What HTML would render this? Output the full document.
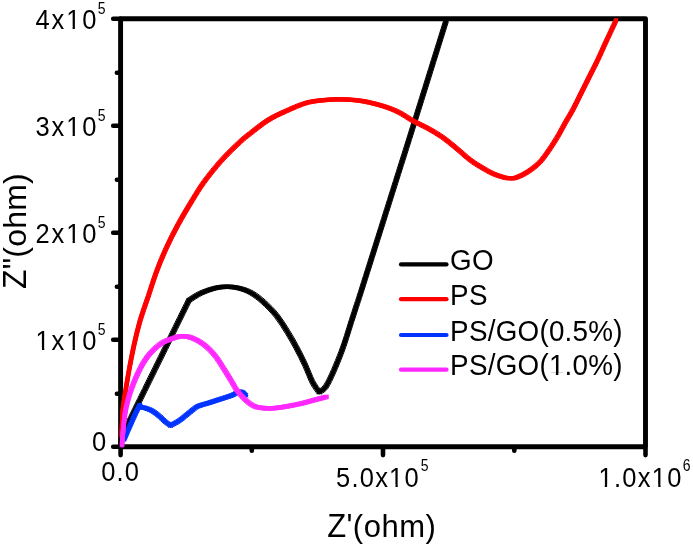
<!DOCTYPE html>
<html><head><meta charset="utf-8"><style>
html,body{margin:0;padding:0;background:#fff;}
svg{display:block;filter:blur(0.55px);}
text{font-family:"Liberation Sans",sans-serif;fill:#000;}
</style></head><body>
<svg width="693" height="546" viewBox="0 0 693 546">
<rect width="693" height="546" fill="#fff"/>
<g fill="none" stroke-linejoin="round" stroke-linecap="round">
<path d="M113.2,446.8H120.6 M113.2,339.8H120.6 M113.2,232.8H120.6 M113.2,125.8H120.6 M113.2,18.8H120.6 M116.9,393.7H120.6 M116.9,286.7H120.6 M116.9,179.7H120.6 M116.9,72.7H120.6 M120.6,448V455.1 M383.0,448V455.1 M645.5,448V455.1 M251.8,448V450.8 M514.3,448V450.8" stroke="#000" stroke-width="4.6" stroke-linecap="round"/>
<rect x="120.6" y="18.8" width="524.9" height="428.0" stroke="#000" stroke-width="4.9"/>
<path d="M120.9,446.0 C121.0,444.6 121.2,438.9 121.3,437.5 M121.3,437.5 C132.6,414.6 177.6,323.2 188.9,300.3 M188.9,300.3 C190.9,299.1 196.4,295.2 200.7,293.2 C205.0,291.2 210.4,289.3 214.8,288.2 C219.2,287.1 222.9,286.8 227.0,286.8 C231.1,286.8 235.1,287.2 239.1,288.2 C243.1,289.2 247.2,290.5 251.2,292.8 C255.2,295.1 259.1,298.0 263.3,301.8 C267.5,305.6 272.4,310.4 276.4,315.4 C280.4,320.4 284.1,326.5 287.4,331.8 C290.7,337.1 293.3,341.6 296.2,347.1 C299.1,352.6 302.3,358.8 305.0,364.7 C307.7,370.6 310.2,377.7 312.6,382.3 C315.0,386.9 318.1,390.6 319.2,392.2 M319.2,392.2 C320.3,391.3 323.4,390.2 325.8,386.7 C328.2,383.2 331.0,376.9 333.5,371.3 C336.0,365.7 338.8,358.7 341.0,353.0 C343.2,347.3 344.8,342.3 346.5,337.0 C348.2,331.7 349.8,326.2 351.5,321.0 C353.2,315.8 354.8,310.9 356.5,305.5 C358.2,300.1 354.1,313.5 362.0,288.5 C369.9,263.5 389.9,200.1 404.0,155.4 C418.1,110.7 439.2,42.7 446.3,20.2" stroke="#000" stroke-width="4.4"/><path transform="translate(-2.00,-1.70)" d="M120.9,446.0 C121.0,444.6 121.2,438.9 121.3,437.5 M121.3,437.5 C132.6,414.6 177.6,323.2 188.9,300.3 M188.9,300.3 C190.9,299.1 196.4,295.2 200.7,293.2 C205.0,291.2 210.4,289.3 214.8,288.2 C219.2,287.1 222.9,286.8 227.0,286.8 C231.1,286.8 235.1,287.2 239.1,288.2 C243.1,289.2 247.2,290.5 251.2,292.8 C255.2,295.1 259.1,298.0 263.3,301.8 C267.5,305.6 272.4,310.4 276.4,315.4 C280.4,320.4 284.1,326.5 287.4,331.8 C290.7,337.1 293.3,341.6 296.2,347.1 C299.1,352.6 302.3,358.8 305.0,364.7 C307.7,370.6 310.2,377.7 312.6,382.3 C315.0,386.9 318.1,390.6 319.2,392.2 M319.2,392.2 C320.3,391.3 323.4,390.2 325.8,386.7 C328.2,383.2 331.0,376.9 333.5,371.3 C336.0,365.7 338.8,358.7 341.0,353.0 C343.2,347.3 344.8,342.3 346.5,337.0 C348.2,331.7 349.8,326.2 351.5,321.0 C353.2,315.8 354.8,310.9 356.5,305.5 C358.2,300.1 354.1,313.5 362.0,288.5 C369.9,263.5 389.9,200.1 404.0,155.4 C418.1,110.7 439.2,42.7 446.3,20.2" stroke="#000" stroke-width="1.0"/><path transform="translate(2.00,-1.70)" d="M120.9,446.0 C121.0,444.6 121.2,438.9 121.3,437.5 M121.3,437.5 C132.6,414.6 177.6,323.2 188.9,300.3 M188.9,300.3 C190.9,299.1 196.4,295.2 200.7,293.2 C205.0,291.2 210.4,289.3 214.8,288.2 C219.2,287.1 222.9,286.8 227.0,286.8 C231.1,286.8 235.1,287.2 239.1,288.2 C243.1,289.2 247.2,290.5 251.2,292.8 C255.2,295.1 259.1,298.0 263.3,301.8 C267.5,305.6 272.4,310.4 276.4,315.4 C280.4,320.4 284.1,326.5 287.4,331.8 C290.7,337.1 293.3,341.6 296.2,347.1 C299.1,352.6 302.3,358.8 305.0,364.7 C307.7,370.6 310.2,377.7 312.6,382.3 C315.0,386.9 318.1,390.6 319.2,392.2 M319.2,392.2 C320.3,391.3 323.4,390.2 325.8,386.7 C328.2,383.2 331.0,376.9 333.5,371.3 C336.0,365.7 338.8,358.7 341.0,353.0 C343.2,347.3 344.8,342.3 346.5,337.0 C348.2,331.7 349.8,326.2 351.5,321.0 C353.2,315.8 354.8,310.9 356.5,305.5 C358.2,300.1 354.1,313.5 362.0,288.5 C369.9,263.5 389.9,200.1 404.0,155.4 C418.1,110.7 439.2,42.7 446.3,20.2" stroke="#000" stroke-width="1.0"/><path transform="translate(-2.00,1.70)" d="M120.9,446.0 C121.0,444.6 121.2,438.9 121.3,437.5 M121.3,437.5 C132.6,414.6 177.6,323.2 188.9,300.3 M188.9,300.3 C190.9,299.1 196.4,295.2 200.7,293.2 C205.0,291.2 210.4,289.3 214.8,288.2 C219.2,287.1 222.9,286.8 227.0,286.8 C231.1,286.8 235.1,287.2 239.1,288.2 C243.1,289.2 247.2,290.5 251.2,292.8 C255.2,295.1 259.1,298.0 263.3,301.8 C267.5,305.6 272.4,310.4 276.4,315.4 C280.4,320.4 284.1,326.5 287.4,331.8 C290.7,337.1 293.3,341.6 296.2,347.1 C299.1,352.6 302.3,358.8 305.0,364.7 C307.7,370.6 310.2,377.7 312.6,382.3 C315.0,386.9 318.1,390.6 319.2,392.2 M319.2,392.2 C320.3,391.3 323.4,390.2 325.8,386.7 C328.2,383.2 331.0,376.9 333.5,371.3 C336.0,365.7 338.8,358.7 341.0,353.0 C343.2,347.3 344.8,342.3 346.5,337.0 C348.2,331.7 349.8,326.2 351.5,321.0 C353.2,315.8 354.8,310.9 356.5,305.5 C358.2,300.1 354.1,313.5 362.0,288.5 C369.9,263.5 389.9,200.1 404.0,155.4 C418.1,110.7 439.2,42.7 446.3,20.2" stroke="#000" stroke-width="1.0"/><path transform="translate(2.00,1.70)" d="M120.9,446.0 C121.0,444.6 121.2,438.9 121.3,437.5 M121.3,437.5 C132.6,414.6 177.6,323.2 188.9,300.3 M188.9,300.3 C190.9,299.1 196.4,295.2 200.7,293.2 C205.0,291.2 210.4,289.3 214.8,288.2 C219.2,287.1 222.9,286.8 227.0,286.8 C231.1,286.8 235.1,287.2 239.1,288.2 C243.1,289.2 247.2,290.5 251.2,292.8 C255.2,295.1 259.1,298.0 263.3,301.8 C267.5,305.6 272.4,310.4 276.4,315.4 C280.4,320.4 284.1,326.5 287.4,331.8 C290.7,337.1 293.3,341.6 296.2,347.1 C299.1,352.6 302.3,358.8 305.0,364.7 C307.7,370.6 310.2,377.7 312.6,382.3 C315.0,386.9 318.1,390.6 319.2,392.2 M319.2,392.2 C320.3,391.3 323.4,390.2 325.8,386.7 C328.2,383.2 331.0,376.9 333.5,371.3 C336.0,365.7 338.8,358.7 341.0,353.0 C343.2,347.3 344.8,342.3 346.5,337.0 C348.2,331.7 349.8,326.2 351.5,321.0 C353.2,315.8 354.8,310.9 356.5,305.5 C358.2,300.1 354.1,313.5 362.0,288.5 C369.9,263.5 389.9,200.1 404.0,155.4 C418.1,110.7 439.2,42.7 446.3,20.2" stroke="#000" stroke-width="1.0"/>
<path d="M121.7,436.0 C121.8,434.2 121.8,429.5 122.0,425.0 C122.2,420.5 122.3,414.3 122.8,409.0 C123.3,403.7 124.1,399.7 125.2,393.0 C126.3,386.3 127.8,376.9 129.3,368.8 C130.8,360.8 132.3,352.7 134.1,344.7 C135.9,336.7 137.8,328.6 140.1,320.6 C142.4,312.6 145.5,304.5 148.2,296.5 C150.9,288.5 153.2,280.4 156.2,272.4 C159.2,264.3 162.5,256.2 166.2,248.2 C169.9,240.1 173.9,232.1 178.3,224.1 C182.7,216.1 188.1,207.0 192.4,200.0 C196.7,193.0 199.2,188.6 204.0,182.0 C208.8,175.4 215.4,167.2 221.3,160.6 C227.2,154.0 234.8,146.8 239.6,142.3 C244.4,137.8 245.4,137.2 250.0,133.6 C254.6,130.0 261.5,124.3 267.3,120.6 C273.1,116.9 278.3,114.5 285.0,111.5 C291.7,108.5 300.1,104.5 307.7,102.5 C315.3,100.5 324.1,100.1 330.8,99.6 C337.5,99.1 342.3,99.3 348.1,99.6 C353.9,99.9 359.3,100.4 365.4,101.6 C371.4,102.8 378.8,104.7 384.4,106.5 C390.0,108.3 394.1,109.9 398.9,112.3 C403.7,114.7 408.5,118.3 413.3,121.0 C418.1,123.7 422.9,125.5 427.7,128.2 C432.5,130.9 437.4,133.6 442.2,137.0 C447.0,140.4 452.0,144.6 456.6,148.4 C461.2,152.2 465.9,156.7 470.0,159.8 C474.1,163.0 477.6,165.0 481.5,167.3 C485.4,169.6 489.2,172.0 493.1,173.7 C497.0,175.4 501.7,176.8 504.6,177.6 C507.5,178.3 508.6,178.2 510.5,178.2 C512.4,178.2 513.3,178.6 516.2,177.6 C519.1,176.6 523.9,174.4 527.7,171.9 C531.6,169.4 535.8,166.2 539.3,162.7 C542.8,159.2 545.3,155.3 548.5,150.8 C551.7,146.3 555.4,140.3 558.3,135.5 C561.1,130.7 563.1,126.5 565.6,122.2 C568.1,117.9 570.7,113.7 573.0,109.4 C575.3,105.1 577.3,100.9 579.4,96.6 C581.5,92.3 583.7,88.1 585.8,83.8 C587.9,79.5 590.2,75.0 592.2,71.0 C594.2,67.0 595.3,65.1 597.7,60.0 C600.1,54.9 603.5,47.1 606.6,40.5 C609.7,33.9 614.5,23.6 616.1,20.2" stroke="#ff0000" stroke-width="4.3"/><path transform="translate(-1.65,-1.65)" d="M121.7,436.0 C121.8,434.2 121.8,429.5 122.0,425.0 C122.2,420.5 122.3,414.3 122.8,409.0 C123.3,403.7 124.1,399.7 125.2,393.0 C126.3,386.3 127.8,376.9 129.3,368.8 C130.8,360.8 132.3,352.7 134.1,344.7 C135.9,336.7 137.8,328.6 140.1,320.6 C142.4,312.6 145.5,304.5 148.2,296.5 C150.9,288.5 153.2,280.4 156.2,272.4 C159.2,264.3 162.5,256.2 166.2,248.2 C169.9,240.1 173.9,232.1 178.3,224.1 C182.7,216.1 188.1,207.0 192.4,200.0 C196.7,193.0 199.2,188.6 204.0,182.0 C208.8,175.4 215.4,167.2 221.3,160.6 C227.2,154.0 234.8,146.8 239.6,142.3 C244.4,137.8 245.4,137.2 250.0,133.6 C254.6,130.0 261.5,124.3 267.3,120.6 C273.1,116.9 278.3,114.5 285.0,111.5 C291.7,108.5 300.1,104.5 307.7,102.5 C315.3,100.5 324.1,100.1 330.8,99.6 C337.5,99.1 342.3,99.3 348.1,99.6 C353.9,99.9 359.3,100.4 365.4,101.6 C371.4,102.8 378.8,104.7 384.4,106.5 C390.0,108.3 394.1,109.9 398.9,112.3 C403.7,114.7 408.5,118.3 413.3,121.0 C418.1,123.7 422.9,125.5 427.7,128.2 C432.5,130.9 437.4,133.6 442.2,137.0 C447.0,140.4 452.0,144.6 456.6,148.4 C461.2,152.2 465.9,156.7 470.0,159.8 C474.1,163.0 477.6,165.0 481.5,167.3 C485.4,169.6 489.2,172.0 493.1,173.7 C497.0,175.4 501.7,176.8 504.6,177.6 C507.5,178.3 508.6,178.2 510.5,178.2 C512.4,178.2 513.3,178.6 516.2,177.6 C519.1,176.6 523.9,174.4 527.7,171.9 C531.6,169.4 535.8,166.2 539.3,162.7 C542.8,159.2 545.3,155.3 548.5,150.8 C551.7,146.3 555.4,140.3 558.3,135.5 C561.1,130.7 563.1,126.5 565.6,122.2 C568.1,117.9 570.7,113.7 573.0,109.4 C575.3,105.1 577.3,100.9 579.4,96.6 C581.5,92.3 583.7,88.1 585.8,83.8 C587.9,79.5 590.2,75.0 592.2,71.0 C594.2,67.0 595.3,65.1 597.7,60.0 C600.1,54.9 603.5,47.1 606.6,40.5 C609.7,33.9 614.5,23.6 616.1,20.2" stroke="#ff0000" stroke-width="1.0"/><path transform="translate(1.65,-1.65)" d="M121.7,436.0 C121.8,434.2 121.8,429.5 122.0,425.0 C122.2,420.5 122.3,414.3 122.8,409.0 C123.3,403.7 124.1,399.7 125.2,393.0 C126.3,386.3 127.8,376.9 129.3,368.8 C130.8,360.8 132.3,352.7 134.1,344.7 C135.9,336.7 137.8,328.6 140.1,320.6 C142.4,312.6 145.5,304.5 148.2,296.5 C150.9,288.5 153.2,280.4 156.2,272.4 C159.2,264.3 162.5,256.2 166.2,248.2 C169.9,240.1 173.9,232.1 178.3,224.1 C182.7,216.1 188.1,207.0 192.4,200.0 C196.7,193.0 199.2,188.6 204.0,182.0 C208.8,175.4 215.4,167.2 221.3,160.6 C227.2,154.0 234.8,146.8 239.6,142.3 C244.4,137.8 245.4,137.2 250.0,133.6 C254.6,130.0 261.5,124.3 267.3,120.6 C273.1,116.9 278.3,114.5 285.0,111.5 C291.7,108.5 300.1,104.5 307.7,102.5 C315.3,100.5 324.1,100.1 330.8,99.6 C337.5,99.1 342.3,99.3 348.1,99.6 C353.9,99.9 359.3,100.4 365.4,101.6 C371.4,102.8 378.8,104.7 384.4,106.5 C390.0,108.3 394.1,109.9 398.9,112.3 C403.7,114.7 408.5,118.3 413.3,121.0 C418.1,123.7 422.9,125.5 427.7,128.2 C432.5,130.9 437.4,133.6 442.2,137.0 C447.0,140.4 452.0,144.6 456.6,148.4 C461.2,152.2 465.9,156.7 470.0,159.8 C474.1,163.0 477.6,165.0 481.5,167.3 C485.4,169.6 489.2,172.0 493.1,173.7 C497.0,175.4 501.7,176.8 504.6,177.6 C507.5,178.3 508.6,178.2 510.5,178.2 C512.4,178.2 513.3,178.6 516.2,177.6 C519.1,176.6 523.9,174.4 527.7,171.9 C531.6,169.4 535.8,166.2 539.3,162.7 C542.8,159.2 545.3,155.3 548.5,150.8 C551.7,146.3 555.4,140.3 558.3,135.5 C561.1,130.7 563.1,126.5 565.6,122.2 C568.1,117.9 570.7,113.7 573.0,109.4 C575.3,105.1 577.3,100.9 579.4,96.6 C581.5,92.3 583.7,88.1 585.8,83.8 C587.9,79.5 590.2,75.0 592.2,71.0 C594.2,67.0 595.3,65.1 597.7,60.0 C600.1,54.9 603.5,47.1 606.6,40.5 C609.7,33.9 614.5,23.6 616.1,20.2" stroke="#ff0000" stroke-width="1.0"/><path transform="translate(-1.65,1.65)" d="M121.7,436.0 C121.8,434.2 121.8,429.5 122.0,425.0 C122.2,420.5 122.3,414.3 122.8,409.0 C123.3,403.7 124.1,399.7 125.2,393.0 C126.3,386.3 127.8,376.9 129.3,368.8 C130.8,360.8 132.3,352.7 134.1,344.7 C135.9,336.7 137.8,328.6 140.1,320.6 C142.4,312.6 145.5,304.5 148.2,296.5 C150.9,288.5 153.2,280.4 156.2,272.4 C159.2,264.3 162.5,256.2 166.2,248.2 C169.9,240.1 173.9,232.1 178.3,224.1 C182.7,216.1 188.1,207.0 192.4,200.0 C196.7,193.0 199.2,188.6 204.0,182.0 C208.8,175.4 215.4,167.2 221.3,160.6 C227.2,154.0 234.8,146.8 239.6,142.3 C244.4,137.8 245.4,137.2 250.0,133.6 C254.6,130.0 261.5,124.3 267.3,120.6 C273.1,116.9 278.3,114.5 285.0,111.5 C291.7,108.5 300.1,104.5 307.7,102.5 C315.3,100.5 324.1,100.1 330.8,99.6 C337.5,99.1 342.3,99.3 348.1,99.6 C353.9,99.9 359.3,100.4 365.4,101.6 C371.4,102.8 378.8,104.7 384.4,106.5 C390.0,108.3 394.1,109.9 398.9,112.3 C403.7,114.7 408.5,118.3 413.3,121.0 C418.1,123.7 422.9,125.5 427.7,128.2 C432.5,130.9 437.4,133.6 442.2,137.0 C447.0,140.4 452.0,144.6 456.6,148.4 C461.2,152.2 465.9,156.7 470.0,159.8 C474.1,163.0 477.6,165.0 481.5,167.3 C485.4,169.6 489.2,172.0 493.1,173.7 C497.0,175.4 501.7,176.8 504.6,177.6 C507.5,178.3 508.6,178.2 510.5,178.2 C512.4,178.2 513.3,178.6 516.2,177.6 C519.1,176.6 523.9,174.4 527.7,171.9 C531.6,169.4 535.8,166.2 539.3,162.7 C542.8,159.2 545.3,155.3 548.5,150.8 C551.7,146.3 555.4,140.3 558.3,135.5 C561.1,130.7 563.1,126.5 565.6,122.2 C568.1,117.9 570.7,113.7 573.0,109.4 C575.3,105.1 577.3,100.9 579.4,96.6 C581.5,92.3 583.7,88.1 585.8,83.8 C587.9,79.5 590.2,75.0 592.2,71.0 C594.2,67.0 595.3,65.1 597.7,60.0 C600.1,54.9 603.5,47.1 606.6,40.5 C609.7,33.9 614.5,23.6 616.1,20.2" stroke="#ff0000" stroke-width="1.0"/><path transform="translate(1.65,1.65)" d="M121.7,436.0 C121.8,434.2 121.8,429.5 122.0,425.0 C122.2,420.5 122.3,414.3 122.8,409.0 C123.3,403.7 124.1,399.7 125.2,393.0 C126.3,386.3 127.8,376.9 129.3,368.8 C130.8,360.8 132.3,352.7 134.1,344.7 C135.9,336.7 137.8,328.6 140.1,320.6 C142.4,312.6 145.5,304.5 148.2,296.5 C150.9,288.5 153.2,280.4 156.2,272.4 C159.2,264.3 162.5,256.2 166.2,248.2 C169.9,240.1 173.9,232.1 178.3,224.1 C182.7,216.1 188.1,207.0 192.4,200.0 C196.7,193.0 199.2,188.6 204.0,182.0 C208.8,175.4 215.4,167.2 221.3,160.6 C227.2,154.0 234.8,146.8 239.6,142.3 C244.4,137.8 245.4,137.2 250.0,133.6 C254.6,130.0 261.5,124.3 267.3,120.6 C273.1,116.9 278.3,114.5 285.0,111.5 C291.7,108.5 300.1,104.5 307.7,102.5 C315.3,100.5 324.1,100.1 330.8,99.6 C337.5,99.1 342.3,99.3 348.1,99.6 C353.9,99.9 359.3,100.4 365.4,101.6 C371.4,102.8 378.8,104.7 384.4,106.5 C390.0,108.3 394.1,109.9 398.9,112.3 C403.7,114.7 408.5,118.3 413.3,121.0 C418.1,123.7 422.9,125.5 427.7,128.2 C432.5,130.9 437.4,133.6 442.2,137.0 C447.0,140.4 452.0,144.6 456.6,148.4 C461.2,152.2 465.9,156.7 470.0,159.8 C474.1,163.0 477.6,165.0 481.5,167.3 C485.4,169.6 489.2,172.0 493.1,173.7 C497.0,175.4 501.7,176.8 504.6,177.6 C507.5,178.3 508.6,178.2 510.5,178.2 C512.4,178.2 513.3,178.6 516.2,177.6 C519.1,176.6 523.9,174.4 527.7,171.9 C531.6,169.4 535.8,166.2 539.3,162.7 C542.8,159.2 545.3,155.3 548.5,150.8 C551.7,146.3 555.4,140.3 558.3,135.5 C561.1,130.7 563.1,126.5 565.6,122.2 C568.1,117.9 570.7,113.7 573.0,109.4 C575.3,105.1 577.3,100.9 579.4,96.6 C581.5,92.3 583.7,88.1 585.8,83.8 C587.9,79.5 590.2,75.0 592.2,71.0 C594.2,67.0 595.3,65.1 597.7,60.0 C600.1,54.9 603.5,47.1 606.6,40.5 C609.7,33.9 614.5,23.6 616.1,20.2" stroke="#ff0000" stroke-width="1.0"/>
<path d="M124.0,439.5 C125.1,437.0 128.4,429.2 130.5,424.5 C132.6,419.8 134.8,414.7 136.4,411.5 C138.0,408.3 139.2,406.2 139.8,405.2 M139.8,405.2 C140.1,405.6 140.6,406.8 141.5,407.3 C142.4,407.8 143.4,407.4 145.2,408.0 C147.0,408.6 150.1,409.6 152.5,411.0 C154.9,412.4 157.8,414.9 159.9,416.6 C162.0,418.4 163.2,420.0 165.0,421.5 C166.8,423.0 169.7,424.8 170.6,425.5 M170.6,425.5 C172.1,424.6 176.4,422.6 179.6,420.4 C182.8,418.2 186.7,414.6 189.7,412.3 C192.7,410.0 194.8,407.8 197.8,406.3 C200.8,404.8 204.2,404.4 207.9,403.2 C211.6,402.0 216.1,400.5 220.1,399.2 C224.1,397.9 229.1,396.4 232.2,395.2 C235.3,394.0 236.7,392.2 238.5,391.8 C240.3,391.4 241.8,391.9 243.0,392.5 C244.2,393.1 245.5,395.0 246.0,395.5" stroke="#0033ff" stroke-width="4.5"/><path transform="translate(-1.80,-1.75)" d="M124.0,439.5 C125.1,437.0 128.4,429.2 130.5,424.5 C132.6,419.8 134.8,414.7 136.4,411.5 C138.0,408.3 139.2,406.2 139.8,405.2 M139.8,405.2 C140.1,405.6 140.6,406.8 141.5,407.3 C142.4,407.8 143.4,407.4 145.2,408.0 C147.0,408.6 150.1,409.6 152.5,411.0 C154.9,412.4 157.8,414.9 159.9,416.6 C162.0,418.4 163.2,420.0 165.0,421.5 C166.8,423.0 169.7,424.8 170.6,425.5 M170.6,425.5 C172.1,424.6 176.4,422.6 179.6,420.4 C182.8,418.2 186.7,414.6 189.7,412.3 C192.7,410.0 194.8,407.8 197.8,406.3 C200.8,404.8 204.2,404.4 207.9,403.2 C211.6,402.0 216.1,400.5 220.1,399.2 C224.1,397.9 229.1,396.4 232.2,395.2 C235.3,394.0 236.7,392.2 238.5,391.8 C240.3,391.4 241.8,391.9 243.0,392.5 C244.2,393.1 245.5,395.0 246.0,395.5" stroke="#0033ff" stroke-width="1.0"/><path transform="translate(1.80,-1.75)" d="M124.0,439.5 C125.1,437.0 128.4,429.2 130.5,424.5 C132.6,419.8 134.8,414.7 136.4,411.5 C138.0,408.3 139.2,406.2 139.8,405.2 M139.8,405.2 C140.1,405.6 140.6,406.8 141.5,407.3 C142.4,407.8 143.4,407.4 145.2,408.0 C147.0,408.6 150.1,409.6 152.5,411.0 C154.9,412.4 157.8,414.9 159.9,416.6 C162.0,418.4 163.2,420.0 165.0,421.5 C166.8,423.0 169.7,424.8 170.6,425.5 M170.6,425.5 C172.1,424.6 176.4,422.6 179.6,420.4 C182.8,418.2 186.7,414.6 189.7,412.3 C192.7,410.0 194.8,407.8 197.8,406.3 C200.8,404.8 204.2,404.4 207.9,403.2 C211.6,402.0 216.1,400.5 220.1,399.2 C224.1,397.9 229.1,396.4 232.2,395.2 C235.3,394.0 236.7,392.2 238.5,391.8 C240.3,391.4 241.8,391.9 243.0,392.5 C244.2,393.1 245.5,395.0 246.0,395.5" stroke="#0033ff" stroke-width="1.0"/><path transform="translate(-1.80,1.75)" d="M124.0,439.5 C125.1,437.0 128.4,429.2 130.5,424.5 C132.6,419.8 134.8,414.7 136.4,411.5 C138.0,408.3 139.2,406.2 139.8,405.2 M139.8,405.2 C140.1,405.6 140.6,406.8 141.5,407.3 C142.4,407.8 143.4,407.4 145.2,408.0 C147.0,408.6 150.1,409.6 152.5,411.0 C154.9,412.4 157.8,414.9 159.9,416.6 C162.0,418.4 163.2,420.0 165.0,421.5 C166.8,423.0 169.7,424.8 170.6,425.5 M170.6,425.5 C172.1,424.6 176.4,422.6 179.6,420.4 C182.8,418.2 186.7,414.6 189.7,412.3 C192.7,410.0 194.8,407.8 197.8,406.3 C200.8,404.8 204.2,404.4 207.9,403.2 C211.6,402.0 216.1,400.5 220.1,399.2 C224.1,397.9 229.1,396.4 232.2,395.2 C235.3,394.0 236.7,392.2 238.5,391.8 C240.3,391.4 241.8,391.9 243.0,392.5 C244.2,393.1 245.5,395.0 246.0,395.5" stroke="#0033ff" stroke-width="1.0"/><path transform="translate(1.80,1.75)" d="M124.0,439.5 C125.1,437.0 128.4,429.2 130.5,424.5 C132.6,419.8 134.8,414.7 136.4,411.5 C138.0,408.3 139.2,406.2 139.8,405.2 M139.8,405.2 C140.1,405.6 140.6,406.8 141.5,407.3 C142.4,407.8 143.4,407.4 145.2,408.0 C147.0,408.6 150.1,409.6 152.5,411.0 C154.9,412.4 157.8,414.9 159.9,416.6 C162.0,418.4 163.2,420.0 165.0,421.5 C166.8,423.0 169.7,424.8 170.6,425.5 M170.6,425.5 C172.1,424.6 176.4,422.6 179.6,420.4 C182.8,418.2 186.7,414.6 189.7,412.3 C192.7,410.0 194.8,407.8 197.8,406.3 C200.8,404.8 204.2,404.4 207.9,403.2 C211.6,402.0 216.1,400.5 220.1,399.2 C224.1,397.9 229.1,396.4 232.2,395.2 C235.3,394.0 236.7,392.2 238.5,391.8 C240.3,391.4 241.8,391.9 243.0,392.5 C244.2,393.1 245.5,395.0 246.0,395.5" stroke="#0033ff" stroke-width="1.0"/>
<path d="M122.0,445.2 C122.2,443.2 122.5,437.2 122.9,433.0 C123.3,428.8 123.7,424.0 124.2,420.0 C124.7,416.0 124.8,413.6 125.8,409.0 C126.8,404.4 128.0,398.8 130.1,392.7 C132.2,386.6 135.2,378.7 138.2,372.5 C141.2,366.3 144.6,360.2 148.3,355.5 C152.0,350.8 156.7,346.7 160.4,344.0 C164.1,341.3 167.0,340.5 170.5,339.2 C174.0,337.9 177.9,336.4 181.6,336.2 C185.3,336.0 188.8,336.7 192.7,338.2 C196.6,339.7 201.1,342.4 204.8,345.3 C208.5,348.2 211.9,351.7 214.9,355.4 C217.9,359.1 220.3,363.3 223.0,367.5 C225.7,371.7 228.7,376.7 231.1,380.6 C233.5,384.5 234.8,387.5 237.2,390.7 C239.6,393.9 242.6,397.3 245.3,399.8 C248.0,402.3 250.8,404.5 253.3,405.8 C255.8,407.1 257.9,407.4 260.4,407.8 C262.8,408.2 265.4,408.3 268.0,408.3 C270.6,408.3 272.5,408.4 276.0,408.0 C279.5,407.6 284.7,406.8 289.0,406.0 C293.3,405.2 297.7,404.4 302.0,403.4 C306.3,402.4 310.9,400.9 315.0,399.8 C319.1,398.7 324.7,397.4 326.6,396.9" stroke="#ff28ff" stroke-width="4.5"/><path transform="translate(-1.80,-1.75)" d="M122.0,445.2 C122.2,443.2 122.5,437.2 122.9,433.0 C123.3,428.8 123.7,424.0 124.2,420.0 C124.7,416.0 124.8,413.6 125.8,409.0 C126.8,404.4 128.0,398.8 130.1,392.7 C132.2,386.6 135.2,378.7 138.2,372.5 C141.2,366.3 144.6,360.2 148.3,355.5 C152.0,350.8 156.7,346.7 160.4,344.0 C164.1,341.3 167.0,340.5 170.5,339.2 C174.0,337.9 177.9,336.4 181.6,336.2 C185.3,336.0 188.8,336.7 192.7,338.2 C196.6,339.7 201.1,342.4 204.8,345.3 C208.5,348.2 211.9,351.7 214.9,355.4 C217.9,359.1 220.3,363.3 223.0,367.5 C225.7,371.7 228.7,376.7 231.1,380.6 C233.5,384.5 234.8,387.5 237.2,390.7 C239.6,393.9 242.6,397.3 245.3,399.8 C248.0,402.3 250.8,404.5 253.3,405.8 C255.8,407.1 257.9,407.4 260.4,407.8 C262.8,408.2 265.4,408.3 268.0,408.3 C270.6,408.3 272.5,408.4 276.0,408.0 C279.5,407.6 284.7,406.8 289.0,406.0 C293.3,405.2 297.7,404.4 302.0,403.4 C306.3,402.4 310.9,400.9 315.0,399.8 C319.1,398.7 324.7,397.4 326.6,396.9" stroke="#ff28ff" stroke-width="1.0"/><path transform="translate(1.80,-1.75)" d="M122.0,445.2 C122.2,443.2 122.5,437.2 122.9,433.0 C123.3,428.8 123.7,424.0 124.2,420.0 C124.7,416.0 124.8,413.6 125.8,409.0 C126.8,404.4 128.0,398.8 130.1,392.7 C132.2,386.6 135.2,378.7 138.2,372.5 C141.2,366.3 144.6,360.2 148.3,355.5 C152.0,350.8 156.7,346.7 160.4,344.0 C164.1,341.3 167.0,340.5 170.5,339.2 C174.0,337.9 177.9,336.4 181.6,336.2 C185.3,336.0 188.8,336.7 192.7,338.2 C196.6,339.7 201.1,342.4 204.8,345.3 C208.5,348.2 211.9,351.7 214.9,355.4 C217.9,359.1 220.3,363.3 223.0,367.5 C225.7,371.7 228.7,376.7 231.1,380.6 C233.5,384.5 234.8,387.5 237.2,390.7 C239.6,393.9 242.6,397.3 245.3,399.8 C248.0,402.3 250.8,404.5 253.3,405.8 C255.8,407.1 257.9,407.4 260.4,407.8 C262.8,408.2 265.4,408.3 268.0,408.3 C270.6,408.3 272.5,408.4 276.0,408.0 C279.5,407.6 284.7,406.8 289.0,406.0 C293.3,405.2 297.7,404.4 302.0,403.4 C306.3,402.4 310.9,400.9 315.0,399.8 C319.1,398.7 324.7,397.4 326.6,396.9" stroke="#ff28ff" stroke-width="1.0"/><path transform="translate(-1.80,1.75)" d="M122.0,445.2 C122.2,443.2 122.5,437.2 122.9,433.0 C123.3,428.8 123.7,424.0 124.2,420.0 C124.7,416.0 124.8,413.6 125.8,409.0 C126.8,404.4 128.0,398.8 130.1,392.7 C132.2,386.6 135.2,378.7 138.2,372.5 C141.2,366.3 144.6,360.2 148.3,355.5 C152.0,350.8 156.7,346.7 160.4,344.0 C164.1,341.3 167.0,340.5 170.5,339.2 C174.0,337.9 177.9,336.4 181.6,336.2 C185.3,336.0 188.8,336.7 192.7,338.2 C196.6,339.7 201.1,342.4 204.8,345.3 C208.5,348.2 211.9,351.7 214.9,355.4 C217.9,359.1 220.3,363.3 223.0,367.5 C225.7,371.7 228.7,376.7 231.1,380.6 C233.5,384.5 234.8,387.5 237.2,390.7 C239.6,393.9 242.6,397.3 245.3,399.8 C248.0,402.3 250.8,404.5 253.3,405.8 C255.8,407.1 257.9,407.4 260.4,407.8 C262.8,408.2 265.4,408.3 268.0,408.3 C270.6,408.3 272.5,408.4 276.0,408.0 C279.5,407.6 284.7,406.8 289.0,406.0 C293.3,405.2 297.7,404.4 302.0,403.4 C306.3,402.4 310.9,400.9 315.0,399.8 C319.1,398.7 324.7,397.4 326.6,396.9" stroke="#ff28ff" stroke-width="1.0"/><path transform="translate(1.80,1.75)" d="M122.0,445.2 C122.2,443.2 122.5,437.2 122.9,433.0 C123.3,428.8 123.7,424.0 124.2,420.0 C124.7,416.0 124.8,413.6 125.8,409.0 C126.8,404.4 128.0,398.8 130.1,392.7 C132.2,386.6 135.2,378.7 138.2,372.5 C141.2,366.3 144.6,360.2 148.3,355.5 C152.0,350.8 156.7,346.7 160.4,344.0 C164.1,341.3 167.0,340.5 170.5,339.2 C174.0,337.9 177.9,336.4 181.6,336.2 C185.3,336.0 188.8,336.7 192.7,338.2 C196.6,339.7 201.1,342.4 204.8,345.3 C208.5,348.2 211.9,351.7 214.9,355.4 C217.9,359.1 220.3,363.3 223.0,367.5 C225.7,371.7 228.7,376.7 231.1,380.6 C233.5,384.5 234.8,387.5 237.2,390.7 C239.6,393.9 242.6,397.3 245.3,399.8 C248.0,402.3 250.8,404.5 253.3,405.8 C255.8,407.1 257.9,407.4 260.4,407.8 C262.8,408.2 265.4,408.3 268.0,408.3 C270.6,408.3 272.5,408.4 276.0,408.0 C279.5,407.6 284.7,406.8 289.0,406.0 C293.3,405.2 297.7,404.4 302.0,403.4 C306.3,402.4 310.9,400.9 315.0,399.8 C319.1,398.7 324.7,397.4 326.6,396.9" stroke="#ff28ff" stroke-width="1.0"/>
</g>
<g transform="translate(35.60,29.10) scale(1,1.115)"><text x="0" y="0" font-size="25.5" letter-spacing="1.84">4x10</text><rect x="31.89" y="-2.36" width="5.12" height="3.21" fill="#fff"/><rect x="39.29" y="-2.36" width="5.22" height="3.21" fill="#fff"/></g><g transform="translate(97.80,13.90) scale(1,1.115)"><text x="0" y="0" font-size="14" letter-spacing="0">5</text></g><g transform="translate(35.60,136.10) scale(1,1.115)"><text x="0" y="0" font-size="25.5" letter-spacing="1.84">3x10</text><rect x="31.89" y="-2.36" width="5.12" height="3.21" fill="#fff"/><rect x="39.29" y="-2.36" width="5.22" height="3.21" fill="#fff"/></g><g transform="translate(97.80,120.90) scale(1,1.115)"><text x="0" y="0" font-size="14" letter-spacing="0">5</text></g><g transform="translate(35.60,243.10) scale(1,1.115)"><text x="0" y="0" font-size="25.5" letter-spacing="1.84">2x10</text><rect x="31.89" y="-2.36" width="5.12" height="3.21" fill="#fff"/><rect x="39.29" y="-2.36" width="5.22" height="3.21" fill="#fff"/></g><g transform="translate(97.80,227.90) scale(1,1.115)"><text x="0" y="0" font-size="14" letter-spacing="0">5</text></g><g transform="translate(35.60,350.10) scale(1,1.115)"><text x="0" y="0" font-size="25.5" letter-spacing="1.84">1x10</text><rect x="1.28" y="-2.36" width="5.12" height="3.21" fill="#fff"/><rect x="8.68" y="-2.36" width="5.22" height="3.21" fill="#fff"/><rect x="31.89" y="-2.36" width="5.12" height="3.21" fill="#fff"/><rect x="39.29" y="-2.36" width="5.22" height="3.21" fill="#fff"/></g><g transform="translate(97.80,334.90) scale(1,1.115)"><text x="0" y="0" font-size="14" letter-spacing="0">5</text></g><g transform="translate(91.90,450.80) scale(1,1.115)"><text x="0" y="0" font-size="25.5" letter-spacing="0">0</text></g>
<g transform="translate(101.30,480.90) scale(1,1.115)"><text x="0" y="0" font-size="25.5" letter-spacing="1.1">0.0</text></g><g transform="translate(336.10,487.20) scale(1,1.115)"><text x="0" y="0" font-size="25.5" letter-spacing="1.2">5.0x10</text><rect x="54.27" y="-2.36" width="5.12" height="3.21" fill="#fff"/><rect x="61.68" y="-2.36" width="5.22" height="3.21" fill="#fff"/></g><g transform="translate(420.80,470.90) scale(1,1.115)"><text x="0" y="0" font-size="14" letter-spacing="0">5</text></g><g transform="translate(598.40,487.20) scale(1,1.115)"><text x="0" y="0" font-size="25.5" letter-spacing="1.32">1.0x10</text><rect x="1.28" y="-2.36" width="5.12" height="3.21" fill="#fff"/><rect x="8.68" y="-2.36" width="5.22" height="3.21" fill="#fff"/><rect x="54.75" y="-2.36" width="5.12" height="3.21" fill="#fff"/><rect x="62.16" y="-2.36" width="5.22" height="3.21" fill="#fff"/></g><g transform="translate(682.80,470.90) scale(1,1.115)"><text x="0" y="0" font-size="14" letter-spacing="0">6</text></g>
<path d="M401,264.4H446.5" stroke="#000" stroke-width="4.2" stroke-linecap="round" fill="none"/><g transform="translate(450.10,270.00) scale(1,1.04)"><text x="0" y="0" font-size="27.8" letter-spacing="0.25">GO</text></g><path d="M401,299.2H446.5" stroke="#ff0000" stroke-width="4.2" stroke-linecap="round" fill="none"/><g transform="translate(450.10,304.80) scale(1,1.04)"><text x="0" y="0" font-size="27.8" letter-spacing="0.25">PS</text></g><path d="M401,335.0H446.5" stroke="#0033ff" stroke-width="4.2" stroke-linecap="round" fill="none"/><g transform="translate(450.10,340.60) scale(1,1.04)"><text x="0" y="0" font-size="27.8" letter-spacing="0.25">PS/GO(0.5%)</text></g><path d="M401,369.7H446.5" stroke="#ff28ff" stroke-width="4.2" stroke-linecap="round" fill="none"/><g transform="translate(450.10,375.30) scale(1,1.04)"><text x="0" y="0" font-size="27.8" letter-spacing="0.25">PS/GO(1.0%)</text><rect x="100.20" y="-2.53" width="5.59" height="3.38" fill="#fff"/><rect x="108.27" y="-2.53" width="5.69" height="3.38" fill="#fff"/></g>

<g transform="translate(25.7,231) rotate(-90)"><g transform="translate(-57.94,0) scale(1,1.05)"><text x="0" y="0" font-size="32" letter-spacing="0.2">Z"</text></g><text x="-26.64" y="0" font-size="32" letter-spacing="0.2">(ohm)</text></g>
<g transform="translate(327.27,536.7) scale(1,1.05)"><text x="0" y="0" font-size="31" letter-spacing="0.35">Z'</text></g><text x="352.81" y="536.7" font-size="31" letter-spacing="0.55">(ohm)</text>
</svg>
</body></html>
